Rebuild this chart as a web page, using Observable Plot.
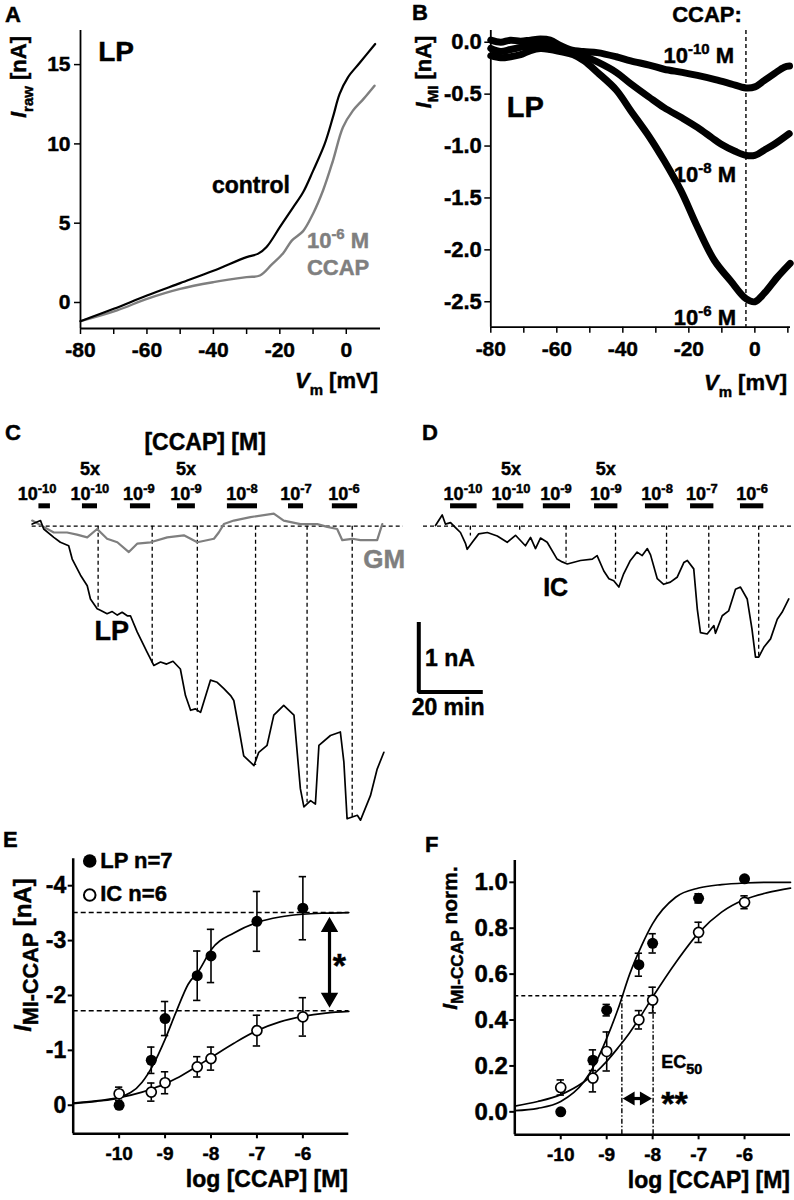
<!DOCTYPE html>
<html><head><meta charset="utf-8">
<script src="https://cdn.jsdelivr.net/npm/d3@7"></script>
<script src="https://cdn.jsdelivr.net/npm/@observablehq/plot@0.6"></script>
<style>
body{margin:0;background:#fff;}
#fig{position:relative;width:794px;height:1200px;overflow:hidden;background:#fff;font-family:'Liberation Sans',Arial,sans-serif;font-weight:bold;color:#000;}
#fig text{stroke:#000;stroke-width:0.45px;}
</style></head><body><div id="fig"></div>
<script>
// ---------------- DATA ----------------
// Panel A: I-V curves (Vm in mV, I in nA)
const aV_control = [-80,-70,-60,-50,-40,-30,-26.5,-24,-20,-16,-13,-10,-6.5,-4,-2,0.5,4,8.7];
const aI_control = [-1.18,-0.40,0.44,1.22,2.0,2.86,3.08,3.5,4.75,6.0,6.95,8.3,10.0,11.7,13.15,14.2,15.1,16.3];
const aV_ccap = [-80,-69,-60,-50,-40,-30,-26,-22.4,-19,-16.4,-13,-10,-7,-4,-1,2,5.2,8.5];
const aI_ccap = [-1.18,-0.5,0.23,0.86,1.28,1.6,1.7,2.4,3.1,3.9,4.5,5.6,7.06,8.95,11.05,12.1,12.84,13.67];
const aXTicks = [-80,-70,-60,-50,-40,-30,-20,-10,0];
const aYTicks = [0,5,10,15];

// Panel B: I_MI vs Vm for three CCAP concentrations
const b10V = [-80,-77,-74,-71,-68,-65,-62,-59,-56,-52,-47.7,-42,-37.6,-32,-27.5,-22,-17.4,-12,-7.3,-2.7,0,2.8,6,8.9,10.5];
const b10I = [0.02,0.0,0.02,0.01,0.02,0.03,0.02,-0.03,-0.07,-0.09,-0.10,-0.14,-0.18,-0.22,-0.26,-0.29,-0.32,-0.36,-0.40,-0.44,-0.43,-0.37,-0.30,-0.24,-0.23];
const b8V = [-80,-77,-74,-71,-68,-65,-62,-59,-56,-52,-47.7,-42,-37.6,-32,-27.5,-22,-17.4,-13,-10.3,-6,-2.7,0,2.8,6,10.4];
const b8I = [-0.06,-0.09,-0.07,-0.05,-0.03,-0.02,-0.04,-0.07,-0.10,-0.13,-0.19,-0.29,-0.40,-0.53,-0.63,-0.73,-0.82,-0.92,-0.98,-1.05,-1.09,-1.09,-1.04,-0.98,-0.88];
const b6V = [-80,-77,-74,-71,-68,-65,-62,-59,-55,-51.7,-47.7,-42,-37.6,-32,-27.5,-22.4,-17.4,-12.3,-7.3,-2.7,0,2.8,6.9,10.7];
const b6I = [-0.13,-0.15,-0.14,-0.12,-0.08,-0.06,-0.07,-0.09,-0.12,-0.18,-0.29,-0.46,-0.66,-0.91,-1.14,-1.43,-1.78,-2.10,-2.30,-2.47,-2.50,-2.42,-2.26,-2.13];
const bDashV = -2.7;
const bXTicks = [-80,-70,-60,-50,-40,-30,-20,-10,0,10];
const bYTicks = [0,-0.5,-1,-1.5,-2,-2.5];

// Panel C: time course (min, nA) LP and GM
const lpT = [0,2.6,3.6,6.75,8.8,11.4,12.5,15.1,17.2,18.2,20.3,21.3,23.4,25.0,26.6,28.1,29.7,30.7,32.8,35.9,38.0,40.1,42.0,44.0,46.3,47.9,49.5,51.0,52.6,55.7,57.8,59.9,62.0,63.0,64.6,66.1,69.3,70.8,73.4,75.5,78.6,81.8,83.8,84.9,87.0,88.5,89.6,93.2,96.3,97.4,98.4,101.6,102.6,105.7,107.8,109.9];
const lpI = [0.03,0.08,-0.04,-0.16,-0.23,-0.28,-0.47,-0.70,-0.85,-1.04,-1.18,-1.20,-1.25,-1.22,-1.27,-1.23,-1.28,-1.28,-1.51,-1.80,-1.99,-1.94,-1.97,-1.93,-2.04,-2.42,-2.63,-2.61,-2.66,-2.20,-2.23,-2.32,-2.42,-2.49,-2.89,-3.28,-3.42,-3.23,-3.13,-2.70,-2.56,-2.70,-3.75,-4.01,-3.92,-3.97,-3.13,-2.99,-2.94,-3.37,-4.18,-4.13,-4.20,-3.85,-3.47,-3.23];
const gmT = [0,3.6,6.75,10.9,14.0,17.2,20.3,23.4,26.6,30.2,32.8,37.0,42.2,47.4,51.6,56.8,58.3,59.9,63.0,68.2,75.5,78.6,83.8,89.1,92.2,95.3,96.9,100.0,102.6,107.8,109.4];
const gmI = [0.08,-0.01,-0.09,-0.09,-0.12,-0.16,-0.04,-0.18,-0.23,-0.37,-0.25,-0.23,-0.16,-0.13,-0.23,-0.18,-0.09,0.03,0.08,0.13,0.18,0.08,0.03,0.03,-0.01,-0.04,-0.20,-0.18,-0.20,-0.20,0.03];
const cDropT = [20.6,37.5,51.6,69.8,85.9,100.0];
const cDropI = [-1.18,-1.97,-2.66,-3.42,-3.95,-4.18];
const cBarStart = [2.1,15.7,30.7,45.4,61.0,80.1,93.8];
const cBarEnd = [5.7,20.4,37.0,51.0,70.4,84.8,101.7];
const cLabelT = [1.7,18.2,33.5,48.2,65.7,82.6,97.6];
const cBaseline = [0,116];

// Panel D: IC time course
const icT = [0,2.1,3.1,4.7,6.25,7.8,9.4,9.9,11.5,13.5,16.2,19.3,22.4,25.0,28.1,29.7,31.25,32.8,34.9,38.0,39.6,41.2,45.3,49.0,50.5,52.6,54.2,55.7,57.3,58.8,60.9,63.0,64.6,66.2,67.2,69.3,71.3,73.4,75.5,77.6,78.7,80.7,81.8,82.8,84.9,87.0,87.5,89.6,91.6,93.75,95.3,97.4,98.9,100.0,101.0,102.6,104.7,106.8,108.3,110.4];
const icI = [0.01,0.16,0.03,0.05,-0.02,-0.09,-0.25,-0.33,-0.23,-0.11,-0.09,-0.14,-0.23,-0.13,-0.28,-0.16,-0.32,-0.17,-0.23,-0.47,-0.51,-0.54,-0.49,-0.47,-0.42,-0.64,-0.75,-0.78,-0.87,-0.68,-0.49,-0.37,-0.42,-0.32,-0.41,-0.75,-0.83,-0.80,-0.73,-0.52,-0.49,-0.61,-1.18,-1.52,-1.54,-1.42,-1.53,-1.28,-1.21,-0.90,-0.87,-1.04,-1.47,-1.87,-1.87,-1.73,-1.61,-1.33,-1.23,-1.04];
const dDropT = [10.9,26.3,40.8,56.25,72.2,85.4,101.0];
const dDropI = [-0.14,-0.07,-0.51,-0.80,-0.81,-1.50,-1.87];
const dBarStart = [4.7,19.3,33.7,49.7,65.6,79.7,95.3];
const dBarEnd = [13.0,27.6,42.2,57.0,72.9,87.0,102.6];
const dLabelT = [8.75,23.75,37.8,53.4,69.4,83.4,99.1];
const dBaseline = [-3.75,112];
const scaleBarT = [-5.22,-5.22,14.78];
const scaleBarI = [-1.37,-2.37,-2.37];

const concExp = ["-10","-10","-9","-9","-8","-7","-6"];
const concFive = [false,true,false,true,false,false,false];

// Panels E/F: dose-response
const doseX = [-10,-9.3,-9,-8.3,-8,-7,-6];
const eLP = [0.0,-0.82,-1.58,-2.36,-2.72,-3.35,-3.59];
const eLPerr = [0,0.24,0.31,0.45,0.485,0.545,0.575];
const eIC = [-0.21,-0.24,-0.41,-0.70,-0.85,-1.36,-1.61];
const eICerr = [0.12,0.165,0.2,0.185,0.21,0.28,0.35];
const fitX = [-11,-10.5,-10,-9.5,-9.25,-9,-8.75,-8.5,-8.25,-8,-7.5,-7,-6.5,-6,-5.5,-5];
const eLPfit = [-0.03,-0.07,-0.14,-0.42,-0.75,-1.2,-1.72,-2.2,-2.47,-2.83,-3.14,-3.33,-3.43,-3.48,-3.50,-3.51];
const eICfit = [-0.04,-0.08,-0.14,-0.24,-0.31,-0.39,-0.49,-0.61,-0.74,-0.87,-1.13,-1.36,-1.52,-1.62,-1.68,-1.71];
const eMaxLP = -3.51, eMaxIC = -1.72;
const fLP = [0.0,0.225,0.443,0.641,0.734,0.930,1.015];
const fLPerr = [0,0.045,0.025,0.05,0.042,0.02,0.01];
const fIC = [0.106,0.147,0.263,0.401,0.487,0.782,0.913];
const fICerr = [0.033,0.06,0.085,0.04,0.056,0.044,0.028];
const fLPfit = [0.005,0.015,0.045,0.13,0.21,0.32,0.45,0.60,0.72,0.82,0.935,0.975,0.99,0.997,1.0,1.0];
const fICfit = [0.025,0.045,0.075,0.13,0.17,0.22,0.28,0.345,0.42,0.50,0.65,0.78,0.87,0.925,0.955,0.975];
const fHalf = 0.506, fEC50LP = -8.67, fEC50IC = -7.99;
const doseTicks = [-10,-9,-8,-7,-6];
const eYTicks = [0,-1,-2,-3,-4];
const fYTicks = [0,0.2,0.4,0.6,0.8,1.0];

// ---------------- HELPERS ----------------
const FONT = "'Liberation Sans', Arial, Helvetica, sans-serif";
const GRAY = "#7f7f7f";
const fig = document.getElementById("fig");
const zip = (xs, ys) => xs.map((x, i) => ({x, y: ys[i]}));
const style = {background: "transparent", fontFamily: FONT, fontWeight: "bold", overflow: "visible", color: "black"};

function place(svg, left, top) {
  svg.style.position = "absolute"; svg.style.left = left + "px"; svg.style.top = top + "px";
  svg.style.maxWidth = "none";
  fig.appendChild(svg); return svg;
}
function rich(svg, X, Y, parts, {size = 22, anchor = "start", fill = "black", rotate = false, subScale = 0.68} = {}) {
  const t = d3.select(svg).append("text")
    .attr("x", X).attr("y", Y).attr("font-size", size).attr("font-weight", "bold")
    .attr("font-family", FONT).attr("text-anchor", anchor).attr("fill", fill)
    .style("stroke", fill);
  if (rotate) t.attr("transform", `rotate(-90 ${X} ${Y})`);
  let shift = 0;
  for (const [s, m] of parts) {
    const target = m === "sub" ? 0.3 * size : m === "sup" ? -0.4 * size : 0;
    const ts = t.append("tspan").text(s).attr("dy", target - shift);
    shift = target;
    if (m === "sub" || m === "sup") ts.attr("font-size", size * subScale);
    if (m === "i") ts.attr("font-style", "italic");
  }
  return t;
}
function richAt(plot, x, y, parts, opts) {
  return rich(plot, plot.scale("x").apply(x), plot.scale("y").apply(y), parts, opts);
}

// ---------------- PANEL A ----------------
const aX0 = -80, aX1 = 10.3, aY0 = -1.64, aY1 = 17.15;
const pA = Plot.plot({
  width: 397, height: 395, marginLeft: 80, marginRight: 17, marginTop: 30, marginBottom: 67,
  style, x: {domain: [aX0, aX1]}, y: {domain: [aY0, aY1]},
  marks: [
    Plot.line(zip(aV_ccap, aI_ccap), {x: "x", y: "y", stroke: GRAY, strokeWidth: 2.4, curve: "catmull-rom"}),
    Plot.line(zip(aV_control, aI_control), {x: "x", y: "y", stroke: "black", strokeWidth: 2.2, curve: "catmull-rom"}),
    Plot.ruleX([aX0], {strokeWidth: 1.8}),
    Plot.ruleY([aY0], {strokeWidth: 1.8}),
    Plot.axisY(aYTicks, {tickSize: 6, tickPadding: 4, fontSize: 21, strokeWidth: 1.5, label: null}),
    Plot.axisX(aXTicks, {tickSize: 6, tickPadding: 8, fontSize: 21, strokeWidth: 1.5, label: null, tickFormat: d => d % 20 === 0 ? String(d) : ""})
  ]
});
place(pA, 0, 0);
richAt(pA, -74.5, 15.2, [["LP", ""]], {size: 28});
richAt(pA, -40.3, 6.87, [["control", ""]], {size: 23});
richAt(pA, -11.7, 3.40, [["10", ""], ["-6", "sup"], [" M", ""]], {size: 22, fill: GRAY});
richAt(pA, -11.7, 1.70, [["CCAP", ""]], {size: 22, fill: GRAY});
rich(pA, 378, 388, [["V", "i"], ["m", "sub"], [" [mV]", ""]], {size: 22, anchor: "end"});
rich(pA, 26, 77, [["I", "i"], ["raw", "sub"], [" [nA]", ""]], {size: 22, anchor: "middle", rotate: true});

// ---------------- PANEL B ----------------
const bX0 = -80, bX1 = 10.8, bY0 = -2.745, bY1 = 0.113;
const pB = Plot.plot({
  width: 397, height: 395, marginLeft: 93.3, marginRight: 4, marginTop: 30, marginBottom: 68.3,
  style, x: {domain: [bX0, bX1]}, y: {domain: [bY0, bY1]},
  marks: [
    Plot.ruleX([bDashV], {strokeDasharray: "4,3", strokeWidth: 1.4}),
    Plot.line(zip(b10V, b10I), {x: "x", y: "y", strokeWidth: 7, curve: "catmull-rom"}),
    Plot.line(zip(b8V, b8I), {x: "x", y: "y", strokeWidth: 7, curve: "catmull-rom"}),
    Plot.line(zip(b6V, b6I), {x: "x", y: "y", strokeWidth: 7, curve: "catmull-rom"}),
    Plot.ruleX([bX0], {strokeWidth: 1.8}),
    Plot.ruleY([bY0], {strokeWidth: 1.8}),
    Plot.axisY(bYTicks, {tickSize: 6, tickPadding: 3, fontSize: 22, strokeWidth: 1.5, label: null, tickFormat: d => d.toFixed(1)}),
    Plot.axisX(bXTicks, {tickSize: 6, tickPadding: 8, fontSize: 21, strokeWidth: 1.5, label: null, tickFormat: d => d % 20 === 0 ? String(d) : ""})
  ]
});
place(pB, 397, 0);
richAt(pB, -24.9, 0.193, [["CCAP:", ""]], {size: 22});
richAt(pB, -27.5, -0.205, [["10", ""], ["-10", "sup"], [" M", ""]], {size: 22});
richAt(pB, -24.4, -1.348, [["10", ""], ["-8", "sup"], [" M", ""]], {size: 22});
richAt(pB, -24.4, -2.729, [["10", ""], ["-6", "sup"], [" M", ""]], {size: 22});
richAt(pB, -75.0, -0.722, [["LP", ""]], {size: 29});
rich(pB, 390, 390, [["V", "i"], ["m", "sub"], [" [mV]", ""]], {size: 22, anchor: "end"});
rich(pB, 34, 72, [["I", "i"], ["MI", "sub"], [" [nA]", ""]], {size: 22, anchor: "middle", rotate: true});

// ---------------- PANELS C & D ----------------
const tcY = [-4.276, 1.867];
const barY = 0.291, labelY = 0.367, fiveY = 0.724;
function concMarks(starts, ends) {
  return Plot.ruleY(starts.map((s, i) => ({s, e: ends[i]})), {x1: "s", x2: "e", y: barY, strokeWidth: 5});
}
function concLabels(plot, labelT) {
  labelT.forEach((t, i) => {
    richAt(plot, t, labelY, [["10", ""], [concExp[i], "sup"]], {size: 18, anchor: "middle", subScale: 0.72});
    if (concFive[i]) richAt(plot, t, fiveY, [["5x", ""]], {size: 18, anchor: "middle"});
  });
}
const pC = Plot.plot({
  width: 410, height: 430, marginLeft: 31.7, marginRight: 10.3, marginTop: 0, marginBottom: 0,
  style, x: {domain: [0, 115], axis: null}, y: {domain: tcY, axis: null},
  marks: [
    Plot.ruleY([0], {x1: cBaseline[0], x2: cBaseline[1], strokeDasharray: "4,3", strokeWidth: 1.3}),
    Plot.ruleX(zip(cDropT, cDropI), {x: "x", y1: 0, y2: "y", strokeDasharray: "4,3", strokeWidth: 1.3}),
    Plot.line(zip(gmT, gmI), {x: "x", y: "y", stroke: GRAY, strokeWidth: 2.2}),
    Plot.line(zip(lpT, lpI), {x: "x", y: "y", stroke: "black", strokeWidth: 1.7}),
    concMarks(cBarStart, cBarEnd)
  ]
});
place(pC, 0, 395);
concLabels(pC, cLabelT);
richAt(pC, 54.2, 1.08, [["[CCAP] [M]", ""]], {size: 23, anchor: "middle"});
richAt(pC, 19.6, -1.63, [["LP", ""]], {size: 27});
richAt(pC, 103.6, -0.61, [["GM", ""]], {size: 26, fill: GRAY});

const pD = Plot.plot({
  width: 397, height: 430, marginLeft: 38, marginRight: 0.6, marginTop: 0, marginBottom: 0,
  style, x: {domain: [0, 112], axis: null}, y: {domain: tcY, axis: null},
  marks: [
    Plot.ruleY([0], {x1: dBaseline[0], x2: dBaseline[1], strokeDasharray: "4,3", strokeWidth: 1.3}),
    Plot.ruleX(zip(dDropT, dDropI), {x: "x", y1: 0, y2: "y", strokeDasharray: "4,3", strokeWidth: 1.3}),
    Plot.line(zip(icT, icI), {x: "x", y: "y", stroke: "black", strokeWidth: 1.7}),
    concMarks(dBarStart, dBarEnd),
    Plot.line(zip(scaleBarT, scaleBarI), {x: "x", y: "y", strokeWidth: 4, strokeLinejoin: "miter", strokeLinecap: "butt"})
  ]
});
place(pD, 397, 395);
concLabels(pD, dLabelT);
richAt(pD, 33.8, -1.01, [["IC", ""]], {size: 25});
richAt(pD, -3.1, -2.01, [["1 nA", ""]], {size: 23});
richAt(pD, -7.3, -2.70, [["20 min", ""]], {size: 23});

// ---------------- PANEL E ----------------
const CAP = 0.08;
function errMarks(xs, ys, errs) {
  const rows = xs.map((x, i) => ({x, y: ys[i], e: errs[i]})).filter(d => d.e > 0);
  return [
    Plot.ruleX(rows, {x: "x", y1: d => d.y - d.e, y2: d => d.y + d.e, strokeWidth: 1.6}),
    Plot.ruleY(rows, {y: d => d.y - d.e, x1: d => d.x - CAP, x2: d => d.x + CAP, strokeWidth: 1.6}),
    Plot.ruleY(rows, {y: d => d.y + d.e, x1: d => d.x - CAP, x2: d => d.x + CAP, strokeWidth: 1.6})
  ];
}
const eYbot = 0.52, eYtop = -4.49;
const eArrowX = -5.42, eArrowTop = -3.39, eArrowBot = -1.82;
const pE = Plot.plot({
  width: 397, height: 375, marginLeft: 72.7, marginRight: 48.7, marginTop: 33.3, marginBottom: 66.7,
  style, x: {domain: [-11, -5]}, y: {domain: [eYbot, eYtop]},
  marks: [
    Plot.ruleY([eMaxLP, eMaxIC], {strokeDasharray: "5,3", strokeWidth: 1.5}),
    ...errMarks(doseX, eLP, eLPerr),
    ...errMarks(doseX, eIC, eICerr),
    Plot.line(zip(fitX, eLPfit), {x: "x", y: "y", strokeWidth: 1.7, curve: "monotone-x"}),
    Plot.line(zip(fitX, eICfit), {x: "x", y: "y", strokeWidth: 1.7, curve: "monotone-x"}),
    Plot.dot(zip(doseX, eLP), {x: "x", y: "y", r: 5.5, fill: "black"}),
    Plot.dot(zip(doseX, eIC), {x: "x", y: "y", r: 5, fill: "white", stroke: "black", strokeWidth: 1.7}),
    Plot.link([{x: eArrowX, a: eArrowTop + 0.1, b: eArrowBot - 0.1}], {x1: "x", x2: "x", y1: "a", y2: "b", strokeWidth: 3.2}),
    Plot.dot([{x: eArrowX, y: eArrowTop + 0.14, r: 0}, {x: eArrowX, y: eArrowBot - 0.14, r: 180}], {x: "x", y: "y", rotate: "r", symbol: "triangle", r: 5.5, fill: "black", stroke: "black"}),
    Plot.dot([{x: -10.64, y: -4.45}], {x: "x", y: "y", r: 6.8, fill: "black"}),
    Plot.dot([{x: -10.64, y: -3.83}], {x: "x", y: "y", r: 5.8, fill: "white", stroke: "black", strokeWidth: 2}),
    Plot.ruleX([-11], {strokeWidth: 2.5}),
    Plot.ruleY([eYbot], {strokeWidth: 2.5}),
    Plot.axisY(eYTicks, {tickSize: 5, tickPadding: 2, fontSize: 23, strokeWidth: 2, label: null, tickFormat: d => String(d)}),
    Plot.axisX(doseTicks, {tickSize: 5, tickPadding: 8, fontSize: 19, strokeWidth: 2, label: null, tickFormat: d => String(d)})
  ]
});
place(pE, 0, 825);
richAt(pE, -10.40, -4.32, [["LP n=7", ""]], {size: 22});
richAt(pE, -10.40, -3.71, [["IC n=6", ""]], {size: 22});
richAt(pE, -5.34, -2.32, [["*", ""]], {size: 34});
rich(pE, 348, 362, [["log [CCAP] [M]", ""]], {size: 23, anchor: "end"});
rich(pE, 31, 130, [["I", "i"], ["MI-CCAP", "sub"], [" [nA]", ""]], {size: 24, anchor: "middle", rotate: true, subScale: 0.9});

// ---------------- PANEL F ----------------
const fYbot = -0.1, fYtop = 1.095;
const fArrowY = 0.058, fArrowL = -8.6, fArrowR = -8.07;
const pF = Plot.plot({
  width: 397, height: 375, marginLeft: 117.3, marginRight: 4, marginTop: 35, marginBottom: 65.7,
  style, x: {domain: [-11, -5]}, y: {domain: [fYbot, fYtop]},
  marks: [
    Plot.ruleY([fHalf], {x1: -11, x2: fEC50IC, strokeDasharray: "4,3", strokeWidth: 1.4}),
    Plot.ruleX([fEC50LP, fEC50IC], {y1: fYbot, y2: fHalf, strokeDasharray: "5,2,1.5,2", strokeWidth: 1.4}),
    ...errMarks(doseX, fLP, fLPerr),
    ...errMarks(doseX, fIC, fICerr),
    Plot.line(zip(fitX, fLPfit), {x: "x", y: "y", strokeWidth: 1.7, curve: "monotone-x"}),
    Plot.line(zip(fitX, fICfit), {x: "x", y: "y", strokeWidth: 1.7, curve: "monotone-x"}),
    Plot.dot(zip(doseX, fLP), {x: "x", y: "y", r: 5.5, fill: "black"}),
    Plot.dot(zip(doseX, fIC), {x: "x", y: "y", r: 5, fill: "white", stroke: "black", strokeWidth: 1.7}),
    Plot.link([{a: fArrowL + 0.1, b: fArrowR - 0.1, y: fArrowY}], {x1: "a", x2: "b", y1: "y", y2: "y", strokeWidth: 3.2}),
    Plot.dot([{x: fArrowL + 0.12, y: fArrowY, r: -90}, {x: fArrowR - 0.12, y: fArrowY, r: 90}], {x: "x", y: "y", rotate: "r", symbol: "triangle", r: 4.2, fill: "black", stroke: "black"}),
    Plot.ruleX([-11], {strokeWidth: 2.5}),
    Plot.ruleY([fYbot], {strokeWidth: 2.5}),
    Plot.axisY(fYTicks, {tickSize: 5, tickPadding: 2, fontSize: 24, strokeWidth: 2, label: null, tickFormat: d => d.toFixed(1)}),
    Plot.axisX(doseTicks, {tickSize: 5, tickPadding: 8, fontSize: 19, strokeWidth: 2, label: null, tickFormat: d => String(d)})
  ]
});
place(pF, 397, 825);
richAt(pF, -7.80, 0.188, [["EC", ""], ["50", "sub"]], {size: 18, subScale: 0.8});
richAt(pF, -7.80, -0.017, [["**", ""]], {size: 34});
rich(pF, 393, 363, [["log [CCAP] [M]", ""]], {size: 23, anchor: "end"});
rich(pF, 60, 113, [["I", "i"], ["MI-CCAP", "sub"], [" norm.", ""]], {size: 21, anchor: "middle", rotate: true, subScale: 0.82});

// ---------------- PANEL LETTERS ----------------
const letters = [["A", 5, 22], ["B", 412, 20], ["C", 5, 440], ["D", 422, 440], ["E", 3, 847], ["F", 425, 852]];
const ov = d3.select(fig).append("svg").attr("width", 794).attr("height", 1200)
  .style("position", "absolute").style("left", "0px").style("top", "0px").style("pointer-events", "none");
ov.selectAll("text").data(letters).join("text")
  .attr("x", d => d[1]).attr("y", d => d[2]).attr("font-size", 22).attr("font-weight", "bold")
  .attr("font-family", FONT).text(d => d[0]);
</script></body></html>
